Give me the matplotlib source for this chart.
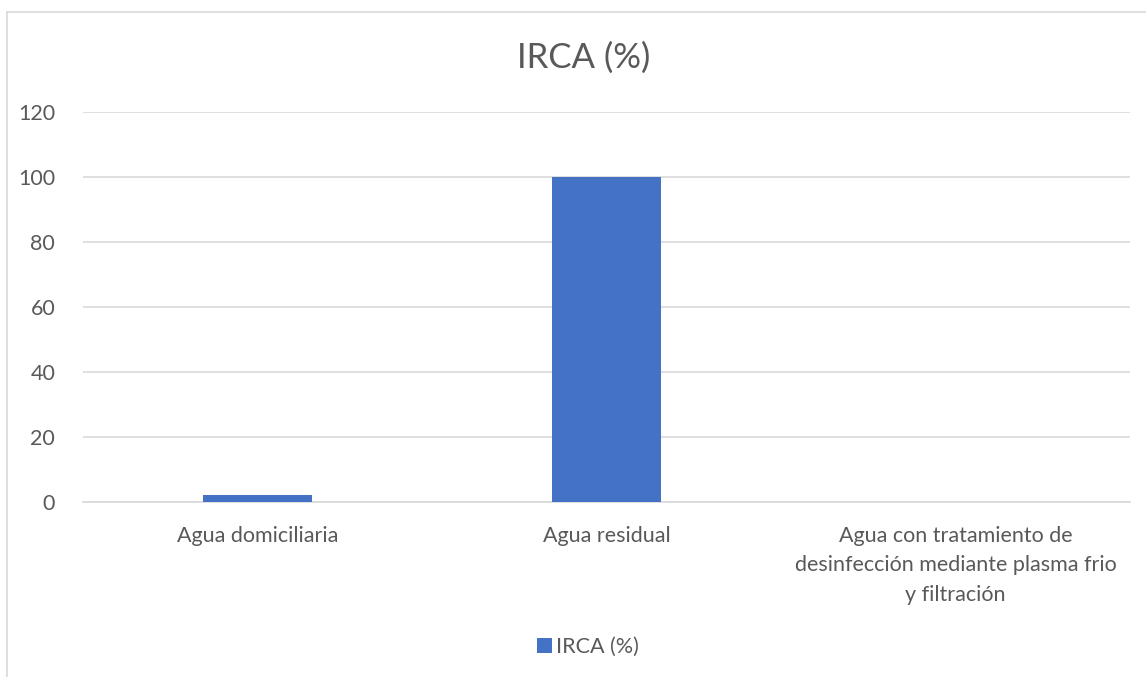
import matplotlib
matplotlib.use("Agg")
import matplotlib.pyplot as plt
from matplotlib.lines import Line2D
from matplotlib.patches import Patch

plt.rcParams['font.family'] = ['Lato', 'DejaVu Sans']

categories = [
    "Agua domiciliaria",
    "Agua residual",
    "Agua con tratamiento de\ndesinfección mediante plasma frio\ny filtración",
]
irca_values = [2, 100, 0]
y_ticks = [0, 20, 40, 60, 80, 100, 120]
series_name = "IRCA (%)"

bar_color = "#4472C4"
grid_color = "#D9D9D9"
text_color = "#595959"

fig = plt.figure(figsize=(11.46, 6.77), dpi=100)
ax = fig.add_axes([0.0724, 0.2585, 0.9136, 0.5761])

x = list(range(len(categories)))
ax.bar(x, irca_values, width=0.31, color=bar_color, zorder=3)

ax.set_xlim(-0.5, len(categories) - 0.5)
ax.set_ylim(0, 120)
ax.set_yticks(y_ticks)
ax.yaxis.grid(True, color=grid_color, linewidth=1.2, zorder=0)
ax.set_axisbelow(True)

for side in ("top", "right", "left"):
    ax.spines[side].set_visible(False)
ax.spines["bottom"].set_color(grid_color)
ax.spines["bottom"].set_linewidth(1.2)

ax.tick_params(axis="both", length=0, labelsize=15.5, labelcolor=text_color)
ax.tick_params(axis="y", pad=20)
ax.tick_params(axis="x", pad=17)
ax.set_xticks(x)
ax.set_xticklabels(categories, linespacing=1.6)

fig.text(0.509, 0.914, series_name, ha="center", va="center",
         fontsize=25, color=text_color)

handle = Patch(facecolor=bar_color, edgecolor="none")
fig.legend([handle], [series_name], loc="center", bbox_to_anchor=(0.513, 0.044),
           frameon=False, fontsize=15.5, labelcolor=text_color,
           handlelength=0.7, handleheight=0.7, handletextpad=0.2)

# chart area border (top and left edges)
fig.add_artist(Line2D([7 / 1146, 7 / 1146], [0, 1 - 12 / 677],
                      transform=fig.transFigure, color=grid_color, linewidth=1.2))
fig.add_artist(Line2D([7 / 1146, 1], [1 - 12 / 677, 1 - 12 / 677],
                      transform=fig.transFigure, color=grid_color, linewidth=1.2))

fig.savefig("out.png", dpi=100, facecolor="white")
